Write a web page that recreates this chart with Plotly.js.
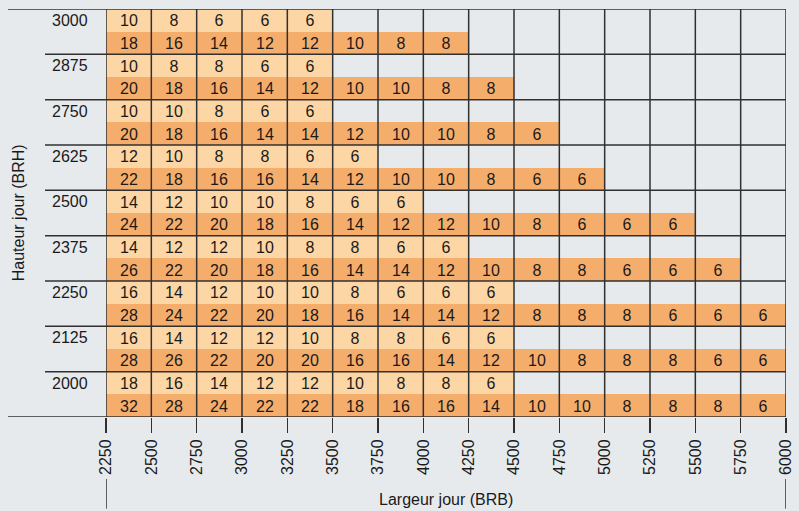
<!DOCTYPE html>
<html>
<head>
<meta charset="utf-8">
<script src="https://cdn.plot.ly/plotly-3.0.1.min.js"></script>
<style>html,body{margin:0;padding:0;background:#e7eaed;}#chart{width:799px;height:511px;}</style>
</head>
<body>
<div id="chart"></div>
<script>
// Width tick labels (BRB) – column boundaries
var widths = [2250, 2500, 2750, 3000, 3250, 3500, 3750, 4000, 4250, 4500, 4750, 5000, 5250, 5500, 5750, 6000];
// Height groups (BRH), top to bottom
var heights = [3000, 2875, 2750, 2625, 2500, 2375, 2250, 2125, 2000];
// Upper (light) row values per height group, by width column
var lightRows = [
  [10, 8, 6, 6, 6],
  [10, 8, 8, 6, 6],
  [10, 10, 8, 6, 6],
  [12, 10, 8, 8, 6, 6],
  [14, 12, 10, 10, 8, 6, 6],
  [14, 12, 12, 10, 8, 8, 6, 6],
  [16, 14, 12, 10, 10, 8, 6, 6, 6],
  [16, 14, 12, 12, 10, 8, 8, 6, 6],
  [18, 16, 14, 12, 12, 10, 8, 8, 6]
];
// Lower (dark) row values per height group, by width column
var darkRows = [
  [18, 16, 14, 12, 12, 10, 8, 8],
  [20, 18, 16, 14, 12, 10, 10, 8, 8],
  [20, 18, 16, 14, 14, 12, 10, 10, 8, 6],
  [22, 18, 16, 16, 14, 12, 10, 10, 8, 6, 6],
  [24, 22, 20, 18, 16, 14, 12, 12, 10, 8, 6, 6, 6],
  [26, 22, 20, 18, 16, 14, 14, 12, 10, 8, 8, 6, 6, 6],
  [28, 24, 22, 20, 18, 16, 14, 14, 12, 8, 8, 8, 6, 6, 6],
  [28, 26, 22, 20, 20, 16, 16, 14, 12, 10, 8, 8, 8, 6, 6],
  [32, 28, 24, 22, 22, 18, 16, 16, 14, 10, 10, 8, 8, 8, 6]
];

var LIGHT = '#fdd6a5', DARK = '#f5ad6c', LINE = '#303030', BG = '#e7eaed', TXT = '#1a1a1a';
var FONT = 'Liberation Sans, Arial, sans-serif';
var FS = 16;
var hstep = heights[0] - heights[1];
var nCols = widths.length - 1;
var xc = [];
for (var i = 0; i < nCols; i++) xc.push((widths[i] + widths[i + 1]) / 2);

// Build heatmap rows (ascending y)
var yc = [], z = [], txt = [];
for (var g = heights.length - 1; g >= 0; g--) {
  var h = heights[g];
  [[darkRows[g], 1, h - hstep / 4], [lightRows[g], 0, h + hstep / 4]].forEach(function (r) {
    var zr = [], tr = [];
    for (var c = 0; c < nCols; c++) {
      if (c < r[0].length) { zr.push(r[1]); tr.push(String(r[0][c])); }
      else { zr.push(null); tr.push(''); }
    }
    yc.push(r[2]); z.push(zr); txt.push(tr);
  });
}

var trace = {
  type: 'heatmap', x: xc, y: yc, z: z, text: txt,
  texttemplate: '%{text}',
  textfont: {family: FONT, size: FS, color: TXT},
  colorscale: [[0, LIGHT], [0.5, LIGHT], [0.5, DARK], [1, DARK]],
  zmin: 0, zmax: 1, showscale: false, hoverinfo: 'skip'
};

var yMin = heights[heights.length - 1] - hstep / 2;
var yMax = heights[0] + hstep / 2;
var shapes = [];
// vertical grid lines
widths.forEach(function (w) {
  shapes.push({type: 'line', layer: 'above', xref: 'x', yref: 'paper', x0: w, x1: w, y0: 0, y1: 1,
    line: {color: LINE, width: 1.5}});
});
// extended end lines below axis
[widths[0], widths[widths.length - 1]].forEach(function (w) {
  shapes.push({type: 'line', layer: 'above', xref: 'x', yref: 'paper', x0: w, x1: w, y0: -0.152, y1: -0.225,
    line: {color: LINE, width: 1.5}});
});
// horizontal group lines
for (var g = 0; g <= heights.length; g++) {
  var yy = yMax - g * hstep;
  var outer = (g === 0 || g === heights.length);
  shapes.push({type: 'line', layer: 'above', xref: 'paper', yref: 'y', x0: outer ? -0.144 : -0.0897, x1: 1, y0: yy, y1: yy,
    line: {color: LINE, width: 1.5}});
}

var annotations = heights.map(function (h) {
  return {xref: 'paper', yref: 'y', x: -0.082, y: h + hstep / 4, xanchor: 'left', yanchor: 'middle',
    text: String(h), showarrow: false, font: {family: FONT, size: FS, color: TXT}};
});
annotations.push({xref: 'paper', yref: 'paper', x: 0.5, y: -0.203, xanchor: 'center', yanchor: 'middle',
  text: 'Largeur jour (BRB)', showarrow: false, font: {family: FONT, size: FS, color: TXT}});
annotations.push({xref: 'paper', yref: 'paper', x: -0.129, y: 0.5, xanchor: 'center', yanchor: 'middle', textangle: -90,
  text: 'Hauteur jour (BRH)', showarrow: false, font: {family: FONT, size: FS, color: TXT}});

var layout = {
  width: 799, height: 511,
  margin: {l: 106, r: 13, t: 9, b: 94},
  paper_bgcolor: BG, plot_bgcolor: BG,
  font: {family: FONT, size: FS, color: TXT},
  xaxis: {range: [widths[0], widths[widths.length - 1]], tickvals: widths, ticktext: widths.map(String),
    tickangle: -90, ticks: 'outside', ticklen: 15, tickwidth: 1.5, tickcolor: LINE,
    showgrid: false, zeroline: false, showline: false, fixedrange: true, tickfont: {family: FONT, size: FS, color: TXT}},
  yaxis: {range: [yMin, yMax], showticklabels: false, ticks: '', showgrid: false, zeroline: false, showline: false, fixedrange: true},
  shapes: shapes, annotations: annotations, showlegend: false
};

Plotly.newPlot('chart', [trace], layout, {displayModeBar: false, staticPlot: true});
</script>
</body>
</html>
